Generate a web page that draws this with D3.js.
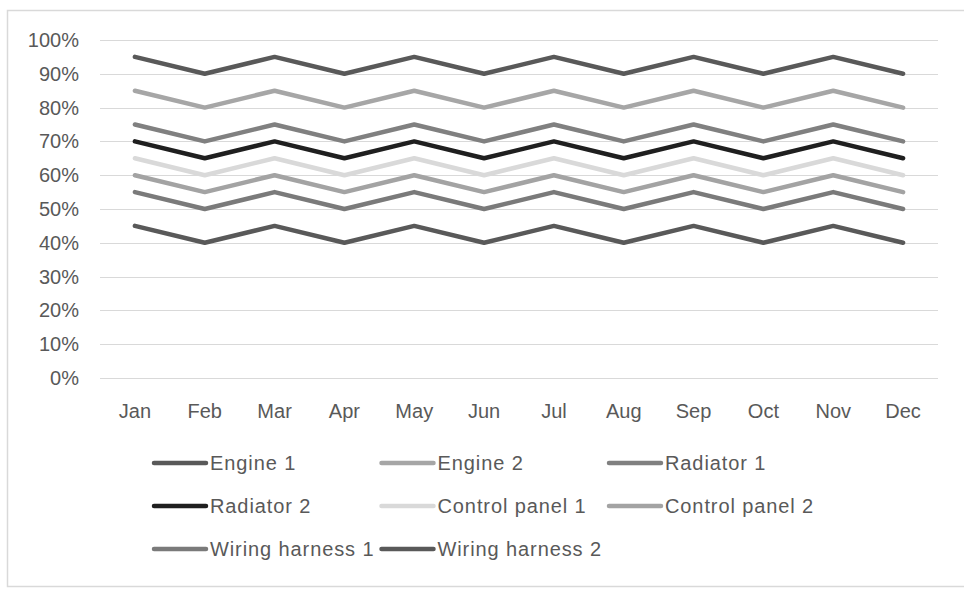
<!DOCTYPE html>
<html>
<head>
<meta charset="utf-8">
<script src="https://cdn.jsdelivr.net/npm/d3@7"></script>
<style>
  html, body { margin: 0; padding: 0; background: #fff; }
  svg { display: block; font-family: "Liberation Sans", Arial, sans-serif; }
</style>
</head>
<body>
<svg id="chart" width="964" height="593"></svg>
<script>
const months = ["Jan","Feb","Mar","Apr","May","Jun","Jul","Aug","Sep","Oct","Nov","Dec"];
const seriesNames = ["Engine 1","Engine 2","Radiator 1","Radiator 2","Control panel 1","Control panel 2","Wiring harness 1","Wiring harness 2"];
const engine1 = [0.95,0.90,0.95,0.90,0.95,0.90,0.95,0.90,0.95,0.90,0.95,0.90];
const engine2 = [0.85,0.80,0.85,0.80,0.85,0.80,0.85,0.80,0.85,0.80,0.85,0.80];
const radiator1 = [0.75,0.70,0.75,0.70,0.75,0.70,0.75,0.70,0.75,0.70,0.75,0.70];
const radiator2 = [0.70,0.65,0.70,0.65,0.70,0.65,0.70,0.65,0.70,0.65,0.70,0.65];
const controlPanel1 = [0.65,0.60,0.65,0.60,0.65,0.60,0.65,0.60,0.65,0.60,0.65,0.60];
const controlPanel2 = [0.60,0.55,0.60,0.55,0.60,0.55,0.60,0.55,0.60,0.55,0.60,0.55];
const wiringHarness1 = [0.55,0.50,0.55,0.50,0.55,0.50,0.55,0.50,0.55,0.50,0.55,0.50];
const wiringHarness2 = [0.45,0.40,0.45,0.40,0.45,0.40,0.45,0.40,0.45,0.40,0.45,0.40];
const yTicks = [0,0.1,0.2,0.3,0.4,0.5,0.6,0.7,0.8,0.9,1.0];
const colors = ["#595959","#a6a6a6","#808080","#1f1f1f","#d9d9d9","#a3a3a3","#7a7a7a","#595959"];

const seriesValues = [engine1, engine2, radiator1, radiator2, controlPanel1, controlPanel2, wiringHarness1, wiringHarness2];
const series = seriesNames.map((n, i) => ({ name: n, values: seriesValues[i], color: colors[i] }));

const svg = d3.select("#chart");
// outer border
svg.append("rect").attr("x", 7.5).attr("y", 10.5).attr("width", 975).attr("height", 576)
  .attr("fill", "#fff").attr("stroke", "#d9d9d9").attr("stroke-width", 1.5);

const plot = { left: 100, right: 938, top: 40, bottom: 378 };
const x = d3.scaleBand().domain(months).range([plot.left, plot.right]);
const y = d3.scaleLinear().domain([0, 1]).range([plot.bottom, plot.top]);

// gridlines
svg.append("g").selectAll("line").data(yTicks).join("line")
  .attr("x1", plot.left).attr("x2", plot.right)
  .attr("y1", d => Math.round(y(d)) + 0.5).attr("y2", d => Math.round(y(d)) + 0.5)
  .attr("stroke", "#d9d9d9").attr("stroke-width", 1);

// y labels
svg.append("g").selectAll("text").data(yTicks).join("text")
  .attr("x", 79).attr("y", d => y(d)).attr("dy", "0.35em")
  .attr("text-anchor", "end").attr("font-size", 20).attr("fill", "#595959")
  .text(d => d3.format(".0%")(d));

// x labels
svg.append("g").selectAll("text").data(months).join("text")
  .attr("x", d => x(d) + x.bandwidth() / 2).attr("y", 418)
  .attr("text-anchor", "middle").attr("font-size", 20).attr("fill", "#595959")
  .text(d => d);

// lines
const line = d3.line().x((d, i) => x(months[i]) + x.bandwidth() / 2).y(d => y(d));
svg.append("g").selectAll("path").data(series).join("path")
  .attr("d", d => line(d.values))
  .attr("fill", "none").attr("stroke", d => d.color).attr("stroke-width", 4.5)
  .attr("stroke-linejoin", "round").attr("stroke-linecap", "round");

// legend
const leg = svg.append("g");
series.forEach((s, i) => {
  const col = i % 3, row = Math.floor(i / 3);
  const lx = 154 + col * 227.5, ly = 463 + row * 43;
  leg.append("line").attr("x1", lx).attr("x2", lx + 52).attr("y1", ly).attr("y2", ly)
    .attr("stroke", s.color).attr("stroke-width", 4.5).attr("stroke-linecap", "round");
  leg.append("text").attr("x", lx + 56).attr("y", ly).attr("dy", "0.35em")
    .attr("font-size", 20).attr("letter-spacing", 0.9).attr("fill", "#595959").text(s.name);
});
</script>
</body>
</html>
